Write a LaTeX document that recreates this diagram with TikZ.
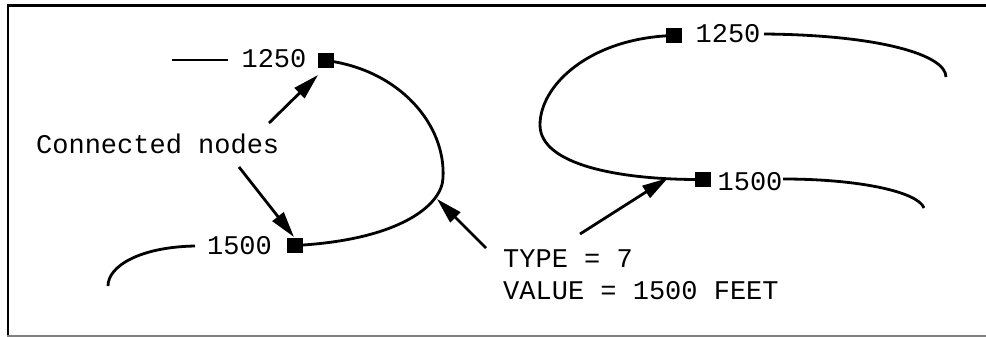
\documentclass[tikz,border=0pt]{standalone}
\usepackage{fontspec}
\setmonofont{Liberation Mono}
\usetikzlibrary{arrows.meta}
\begin{document}
\begin{tikzpicture}[x=1pt,y=-1pt,
  curve/.style={line width=2.8pt},
  sq/.style={fill=black,draw=none,minimum width=16pt,minimum height=15pt,inner sep=0pt},
  lbl/.style={font=\ttfamily\fontsize{27}{32}\selectfont,inner sep=0pt},
  pointer/.style={line width=2.8pt,-{Triangle[length=26pt,width=14pt]}}]
\useasboundingbox (0,0) rectangle (986,337);
% frame
\draw[line width=3pt] (7,5.5) -- (986,5.5);
\draw[line width=2.5pt] (8,4) -- (8,337);
\draw[line width=1.5pt,gray] (7,336) -- (986,336);

% left figure
\node[sq] (la) at (326,60.5) {};
\node[sq] (lb) at (295,245.5) {};
\node[lbl,anchor=base] (la1250) at (274,68) {1250};
\node[lbl,anchor=base] (lb1500) at (239.5,254) {1500};
\node[lbl,anchor=base west] (conn) at (36,153) {Connected nodes};
\coordinate (lstubA) at (172,60);
\coordinate (lstubB) at (228,60);
\draw[curve] (lstubA) -- (lstubB);
\coordinate (cusp) at (437,199);
\draw[curve] (la.center) .. controls (400,70) and (446,125) .. (443,178)
  .. controls (442,205) and (400,240) .. (lb.center);
\coordinate (llA) at (195,246);
\coordinate (llB) at (108,286);
\draw[curve] (llA) .. controls (140,247) and (108,266) .. (llB);
\coordinate (a1s) at (269,123);
\coordinate (a1e) at (318,75);
\draw[pointer] (a1s) -- (a1e);
\coordinate (a2s) at (239,167);
\coordinate (a2e) at (294,237);
\draw[pointer] (a2s) -- (a2e);
\coordinate (a3s) at (486,248);
\draw[pointer] (a3s) -- (cusp);

% right figure
\node[sq] (ra) at (673.5,35.5) {};
\node[sq] (rb) at (702.5,179.5) {};
\node[lbl,anchor=base] (ra1250) at (728,43) {1250};
\node[lbl,anchor=base] (rb1500) at (750,190) {1500};
\draw[curve] (ra.center) .. controls (590,38) and (540,85) .. (540,125)
  .. controls (540,165) and (620,180) .. (rb.center);
\coordinate (rtA) at (764,34);
\coordinate (rtB) at (946,77);
\draw[curve] (rtA) .. controls (880,35) and (946,55) .. (rtB);
\coordinate (rbA) at (783,179);
\coordinate (rbB) at (924,208);
\draw[curve] (rbA) .. controls (860,179) and (918,192) .. (rbB);
\coordinate (a4s) at (580,234);
\coordinate (a4e) at (668,178);
\draw[pointer] (a4s) -- (a4e);

\node[lbl,anchor=base west] (type) at (503,267) {TYPE = 7};
\node[lbl,anchor=base west] (value) at (503,299) {VALUE = 1500 FEET};
\end{tikzpicture}
\end{document}
